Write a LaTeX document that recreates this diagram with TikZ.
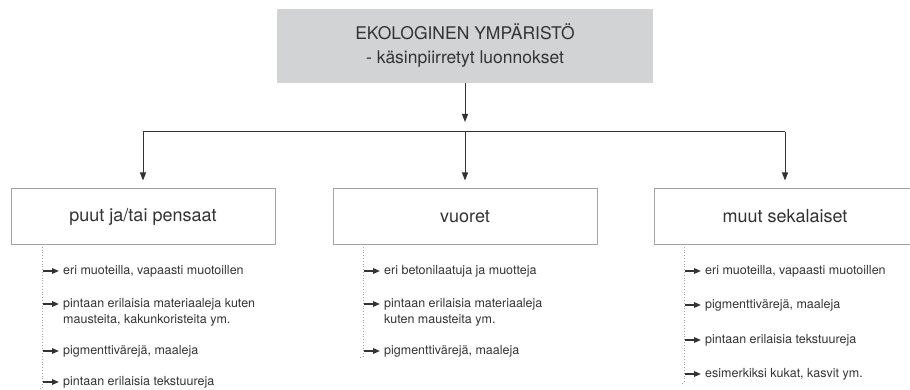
\documentclass[tikz,border=0pt]{standalone}
\usepackage{fontspec}
\setmainfont{TeX Gyre Heros}
\usetikzlibrary{positioning, arrows.meta, calc}
\definecolor{boxgray}{HTML}{D2D3D5}
\definecolor{framegray}{HTML}{A3A3A3}
\definecolor{inkgray}{HTML}{333333}
\tikzset{
  topbox/.style={fill=boxgray, minimum width=376pt, minimum height=74pt, align=center,
    text=inkgray, font=\fontsize{17.5}{24}\selectfont},
  groupbox/.style={draw=framegray, line width=1pt, fill=white, minimum width=264pt,
    minimum height=55pt, text=inkgray, font=\fontsize{18}{22}\selectfont},
  item/.style={anchor=west, align=left, inner xsep=4pt, text=inkgray,
    font=\fontsize{12.5}{16}\selectfont},
  link/.style={draw=inkgray, line width=1pt},
  downarrow/.style={link, -{Triangle[length=8pt,width=6pt]}},
  bullet/.style={draw=inkgray, line width=1.6pt, -{Triangle[length=7pt,width=5.5pt]}},
  dotline/.style={draw=framegray, line width=0.8pt, dotted}
}
\begin{document}
\begin{tikzpicture}[x=1pt, y=-1pt]
\useasboundingbox (0,0) rectangle (910,390);

% top level and the split line
\node[topbox] (env) at (465,46) {EKOLOGINEN YMPÄRISTÖ\\- käsinpiirretyt luonnokset};
\coordinate (split) at (465,132);
\coordinate (splitL) at (143,132);
\coordinate (splitR) at (785,132);
\draw[downarrow, shorten >=10pt] (env.south) -- (split);
\draw[link] (splitL) -- (splitR);

% the three groups
\node[groupbox] (trees) at (143,216.5) {puut ja/tai pensaat};
\node[groupbox] (mountains) at (465,216.5) {vuoret};
\node[groupbox, minimum width=262pt] (misc) at (785,216.5) {muut sekalaiset};
\draw[downarrow, shorten >=8pt] (splitL) -- (trees.north);
\draw[downarrow, shorten >=8pt] (split) -- (mountains.north);
\draw[downarrow, shorten >=8pt] (splitR) -- (misc.north);

% puut ja/tai pensaat
\coordinate (treesdot) at (42,244);
\coordinate (treesend) at (42,388);
\coordinate (treestick) at (39,388);
\draw[dotline] (treesdot) -- (treesend) -- (treestick);
\coordinate (t1a) at (43,271);
\coordinate (t2a) at (43,304);
\coordinate (t3a) at (43,351);
\coordinate (t4a) at (43,382);
\node[item] (t1) at (59,271) {eri muoteilla, vapaasti muotoillen};
\node[item] (t2) at (59,312) {pintaan erilaisia materiaaleja kuten\\mausteita, kakunkoristeita ym.};
\node[item] (t3) at (59,351) {pigmenttivärejä, maaleja};
\node[item] (t4) at (59,382) {pintaan erilaisia tekstuureja};
\draw[bullet] (t1a) -- (t1a -| t1.west);
\draw[bullet] (t2a) -- (t2a -| t2.west);
\draw[bullet] (t3a) -- (t3a -| t3.west);
\draw[bullet] (t4a) -- (t4a -| t4.west);

% vuoret
\coordinate (mountdot) at (363,244);
\coordinate (mountend) at (363,357);
\coordinate (mounttick) at (360,357);
\draw[dotline] (mountdot) -- (mountend) -- (mounttick);
\coordinate (m1a) at (364,271);
\coordinate (m2a) at (364,304);
\coordinate (m3a) at (364,351);
\node[item] (m1) at (380,271) {eri betonilaatuja ja muotteja};
\node[item] (m2) at (380,312) {pintaan erilaisia materiaaleja\\kuten mausteita ym.};
\node[item] (m3) at (380,351) {pigmenttivärejä, maaleja};
\draw[bullet] (m1a) -- (m1a -| m1.west);
\draw[bullet] (m2a) -- (m2a -| m2.west);
\draw[bullet] (m3a) -- (m3a -| m3.west);

% muut sekalaiset
\coordinate (miscdot) at (684,244);
\coordinate (miscend) at (684,383);
\coordinate (misctick) at (681,383);
\draw[dotline] (miscdot) -- (miscend) -- (misctick);
\coordinate (s1a) at (685,271);
\coordinate (s2a) at (685,305);
\coordinate (s3a) at (685,340);
\coordinate (s4a) at (685,374);
\node[item] (s1) at (701,271) {eri muoteilla, vapaasti muotoillen};
\node[item] (s2) at (701,305) {pigmenttivärejä, maaleja};
\node[item] (s3) at (701,340) {pintaan erilaisia tekstuureja};
\node[item] (s4) at (701,374) {esimerkiksi kukat, kasvit ym.};
\draw[bullet] (s1a) -- (s1a -| s1.west);
\draw[bullet] (s2a) -- (s2a -| s2.west);
\draw[bullet] (s3a) -- (s3a -| s3.west);
\draw[bullet] (s4a) -- (s4a -| s4.west);
\end{tikzpicture}
\end{document}
